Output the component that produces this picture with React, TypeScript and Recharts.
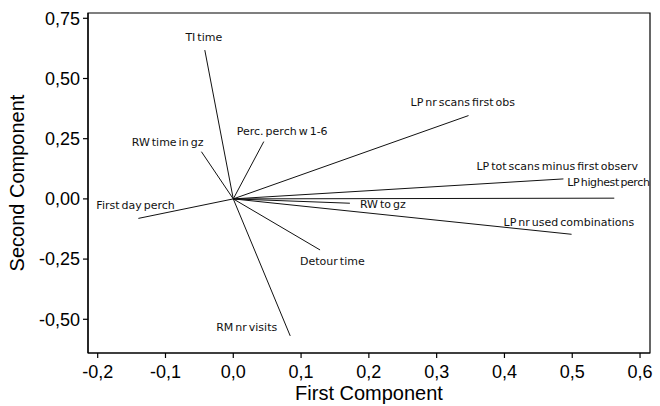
import React from "react";
import {
  ScatterChart, Scatter, XAxis, YAxis, ReferenceLine, ReferenceArea,
} from "recharts";

// loadings of each variable on the first two components
const variableNames = [
  "TI time", "RW time in gz", "Perc. perch w 1-6", "LP nr scans first obs",
  "LP tot scans minus first observ", "LP highest perch", "LP nr used combinations",
  "RW to gz", "Detour time", "RM nr visits", "First day perch",
];
const firstComponent = [-0.042, -0.047, 0.045, 0.347, 0.487, 0.562, 0.499, 0.172, 0.128, 0.084, -0.14];
const secondComponent = [0.618, 0.196, 0.238, 0.346, 0.083, 0.003, -0.147, -0.018, -0.212, -0.569, -0.081];

const xTicks = [-0.2, -0.1, 0, 0.1, 0.2, 0.3, 0.4, 0.5, 0.6];
const yTicks = [-0.5, -0.25, 0, 0.25, 0.5, 0.75];
const xDomain = [-0.2143, 0.6147];
const yDomain = [-0.64, 0.772];

// label placement relative to the end of each loading line (px)
const labelPlace: Record<string, { dx: number; dy: number; anchor: "start" | "middle" | "end" }> = {
  "TI time": { dx: -1, dy: -13, anchor: "middle" },
  "RW time in gz": { dx: 2, dy: -10, anchor: "end" },
  "Perc. perch w 1-6": { dx: -27, dy: -11, anchor: "start" },
  "LP nr scans first obs": { dx: -58, dy: -14, anchor: "start" },
  "LP tot scans minus first observ": { dx: -87, dy: -13, anchor: "start" },
  "LP highest perch": { dx: -47, dy: -16, anchor: "start" },
  "LP nr used combinations": { dx: -68, dy: -12, anchor: "start" },
  "RW to gz": { dx: 10, dy: 1, anchor: "start" },
  "Detour time": { dx: -20, dy: 11, anchor: "start" },
  "RM nr visits": { dx: -13, dy: -9, anchor: "end" },
  "First day perch": { dx: -42, dy: -13, anchor: "start" },
};

const points = variableNames.map((name, i) => ({ name, x: firstComponent[i], y: secondComponent[i] }));

const fmt = (v: number, d: number) => v.toFixed(d).replace(".", ",");

const LabelShape = (props: any) => {
  const { cx, cy, payload } = props;
  const p = labelPlace[payload.name];
  return (
    <text
      x={cx + p.dx}
      y={cy + p.dy + 4}
      textAnchor={p.anchor}
      fontSize={11}
      fontFamily="DejaVu Sans"
      wordSpacing={-1.5}
      letterSpacing={payload.name === "LP highest perch" ? -0.4 : 0}
      fill="#111"
    >
      {payload.name}
    </text>
  );
};

const tickStyle = { fontSize: 18, fill: "#000", fontFamily: "Liberation Sans, Arial, sans-serif" };
const titleStyle = { fontSize: 20, fill: "#000", fontFamily: "Liberation Sans, Arial, sans-serif" };

export default function App() {
  return (
    <div style={{ position: "absolute", left: 0, top: 0, width: 660, height: 406, background: "#fff" }}>
      <ScatterChart width={660} height={406} margin={{ top: 13, right: 10, bottom: 0, left: 0 }}>
        <XAxis
          type="number" dataKey="x" domain={xDomain} ticks={xTicks}
          height={53} tickSize={5} tickMargin={7} stroke="#000" strokeWidth={1.2}
          tick={tickStyle} tickFormatter={(v) => fmt(v, 1)}
          label={{ value: "First Component", position: "insideBottom", offset: 6, style: titleStyle }}
        />
        <YAxis
          type="number" dataKey="y" domain={yDomain} ticks={yTicks}
          width={88} tickSize={5} tickMargin={3} stroke="#000" strokeWidth={1.2}
          tick={tickStyle} tickFormatter={(v) => fmt(v, 2)}
          label={{ value: "Second Component", angle: -90, position: "insideLeft", offset: 17, style: { ...titleStyle, textAnchor: "middle" } }}
        />
        <ReferenceArea x1={xDomain[0]} x2={xDomain[1]} y1={yDomain[0]} y2={yDomain[1]} fill="none" stroke="#000" strokeWidth={1.2} />
        {points.map((p) => (
          <ReferenceLine key={p.name} segment={[{ x: 0, y: 0 }, { x: p.x, y: p.y }]} stroke="#111" strokeWidth={1} />
        ))}
        <Scatter data={points} shape={<LabelShape />} isAnimationActive={false} />
      </ScatterChart>
    </div>
  );
}
